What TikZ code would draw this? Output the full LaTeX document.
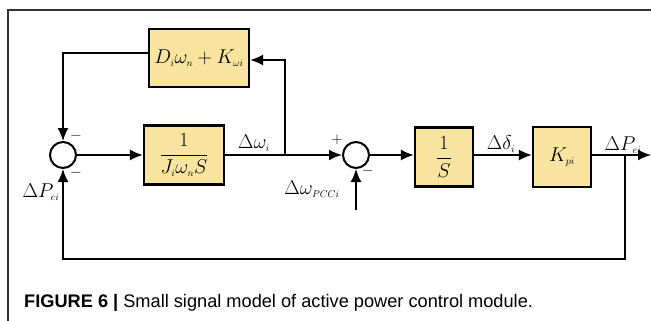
\documentclass[tikz,border=0pt]{standalone}
\usepackage{fix-cm}
\usepackage{fontspec}
\setmainfont{Liberation Serif}
\newfontfamily\capfont{Liberation Sans}
\usetikzlibrary{arrows.meta,calc}
\definecolor{boxfill}{HTML}{F8E49F}
\begin{document}
\begin{tikzpicture}[x=1pt,y=-1pt,
  blk/.style={draw,line width=2.2pt,fill=boxfill,inner sep=0pt},
  sumc/.style={draw,circle,line width=2pt,minimum size=26pt,inner sep=0pt,fill=white},
  sig/.style={line width=1.8pt},
  arr/.style={sig,-{Latex[length=13pt,width=11pt]}},
  lbl/.style={font=\fontsize{20}{23}\selectfont,inner sep=0pt},
  sgn/.style={font=\fontsize{15}{16}\selectfont,inner sep=0pt}]
\useasboundingbox (0,0) rectangle (651,321);
\draw[line width=1.3pt,black!80] (8,321) -- (8,10) -- (651,10);

\node[sumc] (s1) at (63,155) {};
\node[blk,minimum width=80pt,minimum height=59pt] (b1) at (184,155) {};
\node[lbl] (b1t) at (184,155) {$\displaystyle\frac{1}{J_{\scriptscriptstyle i}\omega_{\scriptscriptstyle n}S}$};
\node[blk,minimum width=100pt,minimum height=58pt] (b2) at (199,58) {};
\node[lbl] (b2t) at (199,58) {$D_{\scriptscriptstyle i}\omega_{\scriptscriptstyle n}+K_{\scriptscriptstyle \omega i}$};
\node[sumc] (s2) at (356,155) {};
\node[blk,minimum width=58pt,minimum height=59pt] (b3) at (444,157) {};
\node[lbl] (b3t) at (444,157) {$\displaystyle\frac{1}{S}$};
\node[blk,minimum width=58pt,minimum height=60pt] (b4) at (562,157) {};
\node[lbl] (b4t) at (562,157) {$K_{\scriptscriptstyle pi}$};

\coordinate (br1) at (285,155);
\coordinate (br2) at (625,155);
\coordinate (out) at (651,155);
\coordinate (bot) at (625,259);
\coordinate (in2) at (356,210);

\draw[arr] (s1.east) -- (b1.west |- s1.east);
\draw[sig] (b1.east |- br1) -- (br1);
\draw[arr] (br1) -- (s2.west);
\draw[arr] (br1) |- ([yshift=-2pt]b2.east);
\draw[arr] ([yshift=5pt]b2.west) -| (s1.north);
\draw[arr] (s2.east) -- (b3.west |- s2.east);
\draw[arr] (b3.east |- br1) -- (b4.west |- br1);
\draw[arr] (b4.east |- br1) -- (out);
\draw[arr] (br2) -- (bot) -| (s1.south);
\draw[arr] (in2) -- (s2.south);

\node[lbl] (l1) at (254,143) {$\Delta\omega_{\scriptscriptstyle i}$};
\node[lbl] (l2) at (312,189) {$\Delta\omega_{\scriptscriptstyle PCCi}$};
\node[lbl] (l3) at (501,144) {$\Delta\delta_{\scriptscriptstyle i}$};
\node[lbl] (l4) at (623,145) {$\Delta P_{\scriptscriptstyle ei}$};
\node[lbl] (l5) at (41,192) {$\Delta P_{\scriptscriptstyle ei}$};

\node[sgn] (m1) at (76,136) {$-$};
\node[sgn] (m2) at (76,173) {$-$};
\node[sgn] (p1) at (337,140) {$+$};
\node[sgn] (m3) at (368,171) {$-$};

\node[anchor=west,inner sep=0pt,font=\capfont\fontsize{18.2}{20}\selectfont] (cap) at (24,303)
  {\textbf{FIGURE 6 |} Small signal model of active power control module.};
\end{tikzpicture}
\end{document}
